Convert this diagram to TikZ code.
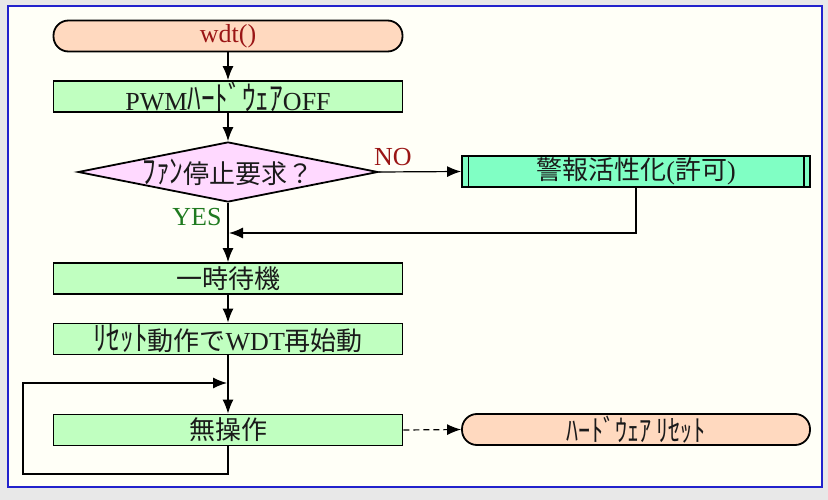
\documentclass[tikz,border=0pt]{standalone}
\usepackage{fontspec}
\usepackage{graphicx}
\setmainfont{Liberation Serif}
\newfontfamily\cjkfont[Scale=1.0]{Noto Sans CJK JP}
\newcommand\jp[1]{{\cjkfont #1}}
\newcommand\hk[1]{\scalebox{1.05}[1.3]{\cjkfont #1}}
\usetikzlibrary{arrows.meta,shapes.geometric}
\definecolor{bgout}{HTML}{E8E8E8}
\definecolor{panel}{HTML}{FFFFF7}
\definecolor{panelborder}{HTML}{2222CC}
\definecolor{peach}{HTML}{FFD9BF}
\definecolor{procgreen}{HTML}{C0FFC0}
\definecolor{aqua}{HTML}{80FFC4}
\definecolor{pinkd}{HTML}{FFD9FF}
\definecolor{darkred}{HTML}{9A1515}
\definecolor{yesgreen}{HTML}{1F7A1F}
\definecolor{textc}{HTML}{1A1A1A}
\tikzset{
  proc/.style={draw, line width=1.8pt, fill=procgreen, minimum width=349pt, minimum height=31pt, inner sep=0pt, text=textc},
  term/.style={proc, fill=peach, rounded corners=15pt},
  dia/.style={draw, shape=diamond, line width=1.8pt, fill=pinkd, minimum width=300pt, minimum height=60pt, inner sep=0pt},
  arr/.style={-{Latex[length=14pt,width=11pt]}, line width=1.2pt},
  lbl/.style={inner sep=0pt}
}
\begin{document}
\begin{tikzpicture}[x=1pt,y=-1pt,font=\fontsize{26}{28}\selectfont]
\useasboundingbox (0,0) rectangle (828,500);
\fill[bgout] (0,0) rectangle (828,500);
\draw[panelborder, line width=2pt, fill=panel] (8,6) rectangle (822,487);

\node[term, text=darkred] (start) at (228,36) {wdt()};
\node[proc] (pwm) at (228,96.5) {PWM\hk{ﾊｰﾄﾞｳｪｱ}OFF};
\node[dia] (dec) at (228,172) {};
\node[lbl, text=textc] (dect) at (228,172) {\hk{ﾌｧﾝ}\jp{停止要求？}};
\node[proc, fill=aqua, minimum width=348pt] (alarm) at (636,171.5) {\jp{警報活性化}(\jp{許可})};
\draw[line width=1.2pt] ([xshift=7pt]alarm.north west) -- ([xshift=7pt]alarm.south west);
\draw[line width=1.2pt] ([xshift=-7pt]alarm.north east) -- ([xshift=-7pt]alarm.south east);
\node[proc] (wait) at (228,278.5) {\jp{一時待機}};
\node[proc] (reset) at (228,339) {\hk{ﾘｾｯﾄ}\jp{動作で}WDT\jp{再始動}};
\node[proc] (idle) at (228,430) {\jp{無操作}};
\node[term, minimum width=348pt, font=\fontsize{23}{25}\selectfont] (hw) at (636,429.5) {\hk{ﾊｰﾄﾞｳｪｱ ﾘｾｯﾄ}};

\node[lbl, text=darkred] (no) at (393,157) {NO};
\node[lbl, text=yesgreen] (yes) at (197,217) {YES};

\coordinate (j1) at (229,233);
\coordinate (j2) at (227,383);
\coordinate (lb) at (23,474);

\draw[arr] (start) -- (pwm);
\draw[arr] (pwm) -- (dec.north);
\draw[arr] (dec.east) -- (alarm.west);
\draw[arr] (dec.south) -- (wait.north);
\draw[arr] (alarm.south) |- (j1);
\draw[arr] (wait) -- (reset);
\draw[arr] (reset) -- (idle);
\draw[arr] (idle.south) |- (lb) |- (j2);
\draw[arr, dash pattern=on 6pt off 4pt] (idle.east) -- (hw.west);
\end{tikzpicture}
\end{document}
